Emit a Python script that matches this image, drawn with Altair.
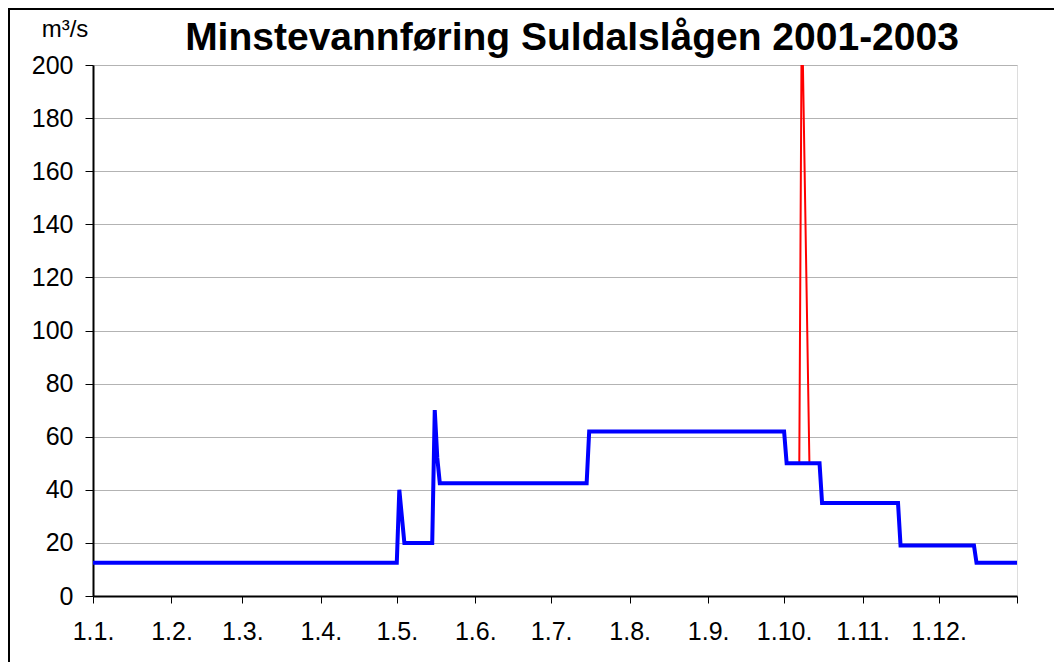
import json
import altair as alt
import pandas as pd

# ---- data ----
title_text = "Minstevannføring Suldalslågen 2001-2003"
unit_text = "m³/s"

month_days = [0, 31, 59, 90, 120, 151, 181, 212, 243, 273, 304, 334, 365]
month_labels = ["1.1.", "1.2.", "1.3.", "1.4.", "1.5.", "1.6.", "1.7.",
                "1.8.", "1.9.", "1.10.", "1.11.", "1.12."]

blue_days = [0, 120, 121, 123, 134, 135, 136, 137, 195, 196, 273, 274,
             287, 288, 318, 319, 348, 349, 365]
blue_vals = [12.5, 12.5, 40, 20, 20, 70, 52, 42.5, 42.5, 62, 62, 50,
             50, 35, 35, 19, 19, 12.5, 12.5]

red_days = [279, 280, 283]
red_vals = [50, 225, 50]

y_ticks = [0, 20, 40, 60, 80, 100, 120, 140, 160, 180, 200]

blue_df = pd.DataFrame({"day": blue_days, "q": blue_vals})
red_df = pd.DataFrame({"day": red_days, "q": red_vals})

FONT = "Liberation Sans"
W, H = 924, 531

label_expr = (
    f"indexof({json.dumps(month_days)}, datum.value) >= 0 && "
    f"indexof({json.dumps(month_days)}, datum.value) < {len(month_labels)} ? "
    f"{json.dumps(month_labels)}[indexof({json.dumps(month_days)}, datum.value)] : ''"
)

x_enc = alt.X(
    "day:Q",
    title="",
    scale=alt.Scale(domain=[0, 365], nice=False, zero=False),
    axis=alt.Axis(values=month_days, labelExpr=label_expr, grid=False,
                  tickSize=7, labelPadding=16, labelFontSize=25,
                  labelFont=FONT, labelColor="black", tickColor="black",
                  domainColor="black", domainWidth=2, labelOverlap=False,
                  labelFlush=False),
)
y_enc = alt.Y(
    "q:Q",
    title="",
    scale=alt.Scale(domain=[0, 200], nice=False),
    axis=alt.Axis(values=y_ticks, grid=True, gridColor="#b3b3b3", gridWidth=1,
                  tickSize=8, labelPadding=12, labelFontSize=25, labelFont=FONT,
                  labelColor="black", tickColor="black", domainColor="black",
                  domainWidth=2),
)

red = alt.Chart(red_df).mark_line(color="#ff0000", strokeWidth=2, clip=True).encode(
    x=x_enc, y=y_enc
)
blue = alt.Chart(blue_df).mark_line(color="#0000ff", strokeWidth=4, clip=True).encode(
    x=x_enc, y=y_enc
)

title = alt.Chart(pd.DataFrame({"t": [title_text]})).mark_text(
    font=FONT, fontSize=39, fontWeight="bold", align="center",
    baseline="alphabetic", color="black"
).encode(text="t:N", x=alt.value(479), y=alt.value(-15))

unit = alt.Chart(pd.DataFrame({"t": [unit_text]})).mark_text(
    font=FONT, fontSize=24, align="center", baseline="alphabetic", color="black"
).encode(text="t:N", x=alt.value(-28), y=alt.value(-28))

frame = alt.Chart(pd.DataFrame({"t": [0]})).mark_rect(
    fillOpacity=0, stroke="black", strokeWidth=2
).encode(x=alt.value(-84), x2=alt.value(1000), y=alt.value(-56), y2=alt.value(700))

chart = (
    alt.layer(frame, red, blue, title, unit)
    .properties(
        width=W, height=H,
        autosize=alt.AutoSizeParams(type="none"),
        padding={"left": 85, "top": 57, "right": 37, "bottom": 66},
    )
    .configure_view(stroke="black", strokeWidth=2)
    .configure(background="white")
)

chart.save("out.html", embed_options={"renderer": "svg", "actions": False})
